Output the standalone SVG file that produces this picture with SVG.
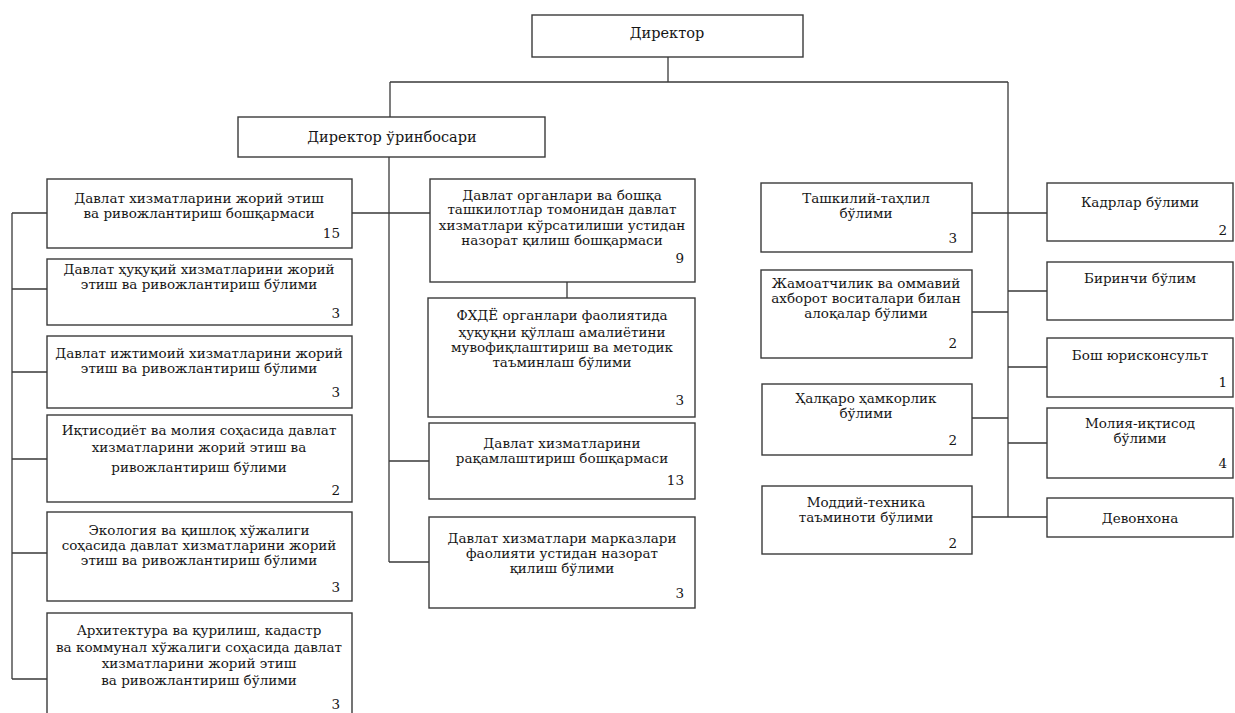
<svg xmlns="http://www.w3.org/2000/svg" width="1235" height="713" viewBox="0 0 1235 713">
<style>
.b{fill:#fff;stroke:#3a3a3a;stroke-width:1.4}
.c{fill:none;stroke:#3a3a3a;stroke-width:1.3}
text{font-family:"DejaVu Serif","Liberation Serif",serif;font-size:13.5px;fill:#161616}
.h{font-size:14.5px}
.m{text-anchor:middle}
.n{text-anchor:end}
</style>
<rect width="1235" height="713" fill="#fff"/>
<g id="connectors">
<path class="c" d="M668 57V82M390 82H1008M390 82V117M389 157V562M352 213H430M12 213V679M12 213H47M12 289H47M12 372H47M12 459H47M12 553H47M12 679H47M389 461H429M389 562H429M567 282V298M1008 82V517M972 213H1047M972 312H1008M1008 291H1047M1008 367H1047M972 418H1008M1008 443H1047M972 517H1047"/>
</g>
<g id="director"><rect class="b" x="532" y="15" width="271" height="42"/><text class="m h" x="667" y="38">Директор</text></g>
<g id="deputy"><rect class="b" x="238" y="117" width="307" height="40"/><text class="m h" x="392" y="142">Директор ўринбосари</text></g>

<g id="l1"><rect class="b" x="47" y="179" width="305" height="69"/><text class="m" x="199" y="203">Давлат хизматларини жорий этиш</text><text class="m" x="199" y="218">ва ривожлантириш бошқармаси</text><text class="n" x="340" y="238">15</text></g>
<g id="l2"><rect class="b" x="47" y="259" width="305" height="66"/><text class="m" x="199" y="274">Давлат ҳуқуқий хизматларини жорий</text><text class="m" x="199" y="289">этиш ва ривожлантириш бўлими</text><text class="n" x="340" y="318">3</text></g>
<g id="l3"><rect class="b" x="47" y="336" width="305" height="72"/><text class="m" x="199" y="358">Давлат ижтимоий хизматларини жорий</text><text class="m" x="199" y="373">этиш ва ривожлантириш бўлими</text><text class="n" x="340" y="397">3</text></g>
<g id="l4"><rect class="b" x="47" y="415" width="305" height="87"/><text class="m" x="199" y="435">Иқтисодиёт ва молия соҳасида давлат</text><text class="m" x="199" y="452">хизматларини жорий этиш ва</text><text class="m" x="199" y="472">ривожлантириш бўлими</text><text class="n" x="340" y="495">2</text></g>
<g id="l5"><rect class="b" x="47" y="512" width="305" height="89"/><text class="m" x="199" y="535">Экология ва қишлоқ хўжалиги</text><text class="m" x="199" y="550">соҳасида давлат хизматларини жорий</text><text class="m" x="199" y="565">этиш ва ривожлантириш бўлими</text><text class="n" x="340" y="592">3</text></g>
<g id="l6"><rect class="b" x="47" y="613" width="305" height="103"/><text class="m" x="199" y="635">Архитектура ва қурилиш, кадастр</text><text class="m" x="199" y="652">ва коммунал хўжалиги соҳасида давлат</text><text class="m" x="199" y="668">хизматларини жорий этиш</text><text class="m" x="199" y="685">ва ривожлантириш бўлими</text><text class="n" x="340" y="709">3</text></g>

<g id="m1"><rect class="b" x="430" y="179" width="265" height="103"/><text class="m" x="562" y="200">Давлат органлари ва бошқа</text><text class="m" x="562" y="214">ташкилотлар томонидан давлат</text><text class="m" x="562" y="230">хизматлари кўрсатилиши устидан</text><text class="m" x="562" y="245">назорат қилиш бошқармаси</text><text class="n" x="684" y="263">9</text></g>
<g id="m2"><rect class="b" x="428" y="298" width="267" height="119"/><text class="m" x="562" y="320">ФХДЁ органлари фаолиятида</text><text class="m" x="562" y="337">ҳуқуқни қўллаш амалиётини</text><text class="m" x="562" y="352">мувофиқлаштириш ва методик</text><text class="m" x="562" y="367">таъминлаш бўлими</text><text class="n" x="684" y="405">3</text></g>
<g id="m3"><rect class="b" x="429" y="423" width="266" height="76"/><text class="m" x="562" y="448">Давлат хизматларини</text><text class="m" x="562" y="463">рақамлаштириш бошқармаси</text><text class="n" x="684" y="485">13</text></g>
<g id="m4"><rect class="b" x="429" y="517" width="266" height="91"/><text class="m" x="562" y="543">Давлат хизматлари марказлари</text><text class="m" x="562" y="558">фаолияти устидан назорат</text><text class="m" x="562" y="573">қилиш бўлими</text><text class="n" x="684" y="598">3</text></g>

<g id="r1"><rect class="b" x="761" y="183" width="211" height="69"/><text class="m" x="866" y="203">Ташкилий-таҳлил</text><text class="m" x="866" y="218">бўлими</text><text class="n" x="957" y="243">3</text></g>
<g id="r2"><rect class="b" x="761" y="270" width="211" height="88"/><text class="m" x="866" y="288">Жамоатчилик ва оммавий</text><text class="m" x="866" y="303">ахборот воситалари билан</text><text class="m" x="866" y="318">алоқалар бўлими</text><text class="n" x="957" y="348">2</text></g>
<g id="r3"><rect class="b" x="762" y="384" width="210" height="71"/><text class="m" x="866" y="403">Ҳалқаро ҳамкорлик</text><text class="m" x="866" y="418">бўлими</text><text class="n" x="957" y="445">2</text></g>
<g id="r4"><rect class="b" x="762" y="486" width="210" height="68"/><text class="m" x="866" y="507">Моддий-техника</text><text class="m" x="866" y="522">таъминоти бўлими</text><text class="n" x="957" y="548">2</text></g>

<g id="k1"><rect class="b" x="1047" y="183" width="186" height="58"/><text class="m" x="1140" y="207">Кадрлар бўлими</text><text class="n" x="1227" y="235">2</text></g>
<g id="k2"><rect class="b" x="1047" y="262" width="186" height="58"/><text class="m" x="1140" y="283">Биринчи бўлим</text></g>
<g id="k3"><rect class="b" x="1047" y="338" width="186" height="59"/><text class="m" x="1140" y="360">Бош юрисконсульт</text><text class="n" x="1227" y="387">1</text></g>
<g id="k4"><rect class="b" x="1047" y="408" width="186" height="70"/><text class="m" x="1140" y="428">Молия-иқтисод</text><text class="m" x="1140" y="443">бўлими</text><text class="n" x="1227" y="468">4</text></g>
<g id="k5"><rect class="b" x="1047" y="498" width="186" height="39"/><text class="m" x="1140" y="523">Девонхона</text></g>
</svg>
